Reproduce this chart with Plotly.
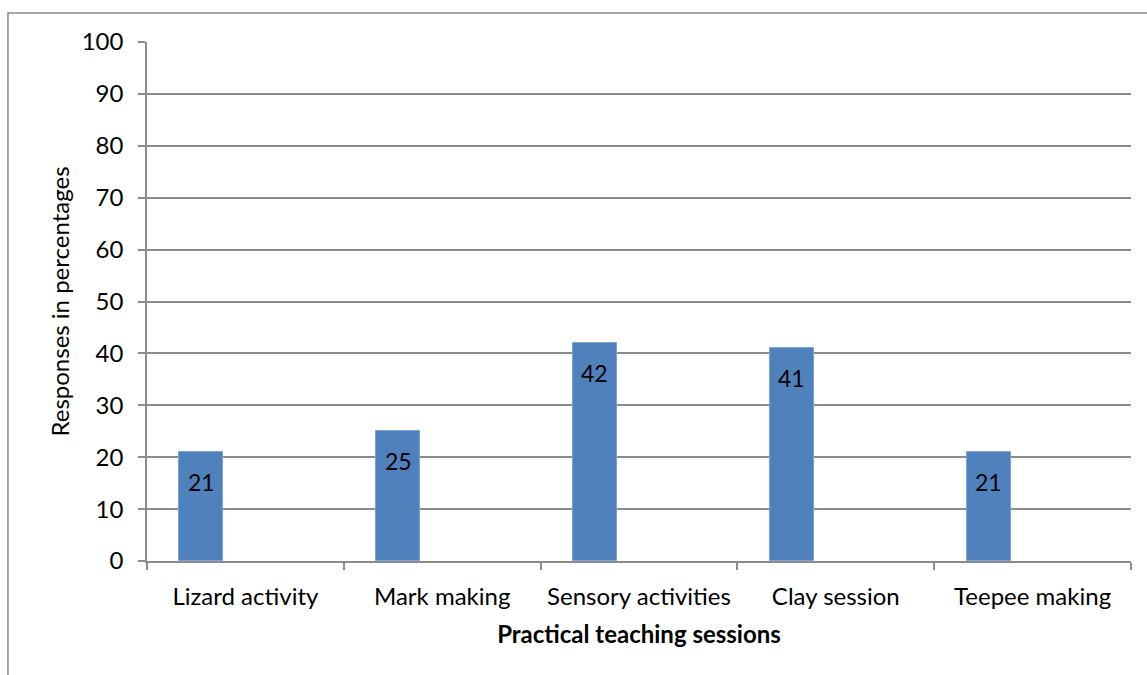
import plotly.graph_objects as go

sessions = ["Lizard activity", "Mark making", "Sensory activities", "Clay session", "Teepee making"]
responses = [21, 25, 42, 41, 21]
y_ticks = [0, 10, 20, 30, 40, 50, 60, 70, 80, 90, 100]

FONT = "Lato, 'Open Sans', sans-serif"
GRID = "#8c8c8c"
BAR = "#4f81bd"

# first of three cluster slots: width w, offset -1.5w
w = 0.2236

fig = go.Figure()
fig.add_trace(go.Bar(
    x=sessions,
    y=responses,
    width=w,
    offset=-1.5 * w,
    marker=dict(color=BAR, line=dict(color="#7da3d3", width=1)),
    hoverinfo="x+y",
))

# value labels inside the top of each bar
for s, v in zip(sessions, responses):
    fig.add_annotation(
        x=s, y=v, xref="x", yref="y",
        text=str(v), showarrow=False,
        xshift=-w * 196.8, yshift=-30,
        font=dict(family=FONT, size=23, color="#000000"),
    )

# outer chart border (top and left edges are inside the page)
fig.add_shape(
    type="rect", xref="paper", yref="paper",
    x0=-0.1413, x1=1.2, y0=-0.4, y1=1.0559,
    line=dict(color="#8a8a8a", width=1.5),
    fillcolor="rgba(0,0,0,0)", layer="below",
)

fig.update_layout(
    width=1147, height=675,
    margin=dict(l=147, r=16, t=42, b=114),
    paper_bgcolor="white", plot_bgcolor="white",
    showlegend=False,
    font=dict(family=FONT, size=24, color="#000000"),
    bargap=0,
)
fig.update_xaxes(
    type="category",
    showgrid=False,
    showline=True, linecolor=GRID, linewidth=1.5,
    ticks="outside", ticklen=7, tickcolor=GRID, tickwidth=1.5,
    tickson="boundaries",
    ticklabelstandoff=13,
    tickfont=dict(family=FONT, size=24, color="#000000"),
    title=dict(text="<b>Practical teaching sessions</b>",
               font=dict(family=FONT, size=24, color="#000000"), standoff=18),
)
fig.update_yaxes(
    range=[0, 100],
    tickvals=y_ticks,
    showgrid=True, gridcolor=GRID, gridwidth=1.5,
    showline=True, linecolor=GRID, linewidth=1.5,
    ticks="outside", ticklen=7, tickcolor=GRID, tickwidth=1.5,
    ticklabelstandoff=10,
    zeroline=False,
    tickfont=dict(family=FONT, size=24, color="#000000"),
    title=dict(text="Responses in percentages",
               font=dict(family=FONT, size=24, color="#000000"), standoff=5),
)

fig.write_html("out.html")
